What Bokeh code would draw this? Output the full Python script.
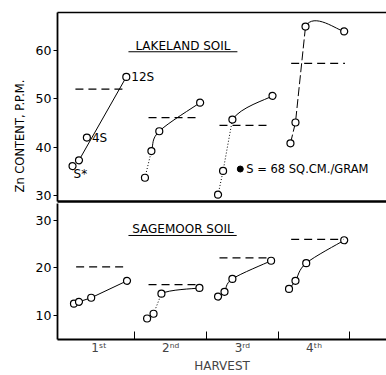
from bokeh.plotting import figure
from bokeh.models import Range1d, FixedTicker, LinearAxis, Label, Title
from bokeh.layouts import column
from bokeh.embed import file_html
from bokeh.resources import INLINE

# ---------------- data ----------------
harvest_labels = ["1\u02e2\u1d57", "2\u207f\u1d48", "3\u02b3\u1d48", "4\u1d57\u02b0"]
harvest_centers = [0.5, 1.5, 2.5, 3.5]
harvest_bounds = [1, 2, 3, 4]

lake_x = [[0.13, 0.22, 0.33, 0.88], [1.14, 1.23, 1.34, 1.91],
          [2.16, 2.23, 2.36, 2.92], [3.17, 3.24, 3.38, 3.92]]
lake_y = [[36.1, 37.3, 42.0, 54.5], [33.7, 39.2, 43.3, 49.2],
          [30.2, 35.1, 45.7, 50.6], [40.8, 45.1, 64.9, 63.9]]
lake_ref = [52.0, 46.1, 44.5, 57.3]
lake_ref_x0 = [0.17, 1.19, 2.18, 3.18]
lake_ref_x1 = [0.89, 1.86, 2.86, 3.93]

sage_x = [[0.15, 0.22, 0.39, 0.89], [1.17, 1.26, 1.37, 1.90],
          [2.16, 2.25, 2.36, 2.90], [3.15, 3.24, 3.39, 3.92]]
sage_y = [[12.5, 12.9, 13.75, 17.3], [9.4, 10.4, 14.6, 15.8],
          [14.0, 15.0, 17.7, 21.5], [15.6, 17.3, 21.0, 25.8]]
sage_ref = [20.2, 16.5, 22.1, 26.0]
sage_ref_x0 = [0.18, 1.19, 2.18, 3.18]
sage_ref_x1 = [0.89, 1.91, 2.89, 3.91]

surface_x = [2.47]
surface_y = [35.5]

lake_ticks = [30, 40, 50, 60]
sage_ticks = [10, 20, 30]

FONT = "DejaVu Sans"
X_RANGE = Range1d(-0.08, 4.51)


def style_common(p):
    p.xgrid.visible = False
    p.ygrid.visible = False
    p.outline_line_color = None
    p.background_fill_color = "white"
    p.border_fill_color = "white"


def style_yaxis(ax, ticks):
    ax.ticker = FixedTicker(ticks=ticks)
    ax.major_tick_in = 0
    ax.major_tick_out = 4
    ax.minor_tick_line_color = None
    ax.major_label_standoff = 2
    ax.major_label_text_font = FONT
    ax.major_label_text_font_size = "12.5px"
    ax.major_label_text_color = "black"
    ax.axis_line_width = 1.8
    ax.axis_line_color = "black"
    ax.major_tick_line_color = "black"


def bare_axis(ax, width):
    ax.ticker = FixedTicker(ticks=[])
    ax.major_label_text_font_size = "0px"
    ax.major_label_standoff = 0
    ax.major_tick_in = 0
    ax.major_tick_out = 0
    ax.minor_tick_line_color = None
    ax.axis_line_width = width
    ax.axis_line_color = "black"


def catmull(xs, ys, start):
    n = len(xs)
    out = {"x0": [], "y0": [], "x1": [], "y1": [], "cx0": [], "cy0": [], "cx1": [], "cy1": []}
    for i in range(start, n - 1):
        a = i - 1 if i > 0 else i
        d = i + 2 if i + 2 < n else i + 1
        out["x0"].append(xs[i]); out["y0"].append(ys[i])
        out["x1"].append(xs[i + 1]); out["y1"].append(ys[i + 1])
        out["cx0"].append(xs[i] + (xs[i + 1] - xs[a]) / 6)
        out["cy0"].append(ys[i] + (ys[i + 1] - ys[a]) / 6)
        out["cx1"].append(xs[i + 1] - (xs[d] - xs[i]) / 6)
        out["cy1"].append(ys[i + 1] - (ys[d] - ys[i]) / 6)
    return out


def draw_series(p, xs, ys, dash_start, dash_end, dash, curve=True):
    if dash_end > dash_start:
        p.line(xs[dash_start:dash_end + 1], ys[dash_start:dash_end + 1], line_color="black",
               line_width=1, line_dash=dash)
    if curve:
        seg = catmull(xs, ys, dash_end)
        p.bezier(line_color="black", line_width=1, **seg)
    else:
        p.line(xs[dash_end:], ys[dash_end:], line_color="black", line_width=1)
    p.scatter(xs, ys, size=7, marker="circle", fill_color="white",
              line_color="black", line_width=1.2)


def lab(p, text, x, y, size="12px", align="left", xo=0, yo=0):
    p.add_layout(Label(x=x, y=y, text=text, text_font=FONT, text_font_size=size,
                       text_align=align, text_baseline="middle", x_offset=xo,
                       y_offset=yo, text_color="black"))


# ---------------- top panel: Lakeland ----------------
p1 = figure(width=386, height=203, x_range=X_RANGE, y_range=Range1d(28.8, 67.8),
            output_backend="svg", toolbar_location=None,
            min_border_left=57, min_border_right=0, min_border_top=12, min_border_bottom=2)
style_common(p1)
style_yaxis(p1.yaxis[0], lake_ticks)
bare_axis(p1.xaxis[0], 2.5)
top_ax = LinearAxis()
bare_axis(top_ax, 1.5)
p1.add_layout(top_ax, "above")

ylab = Title(text="Zn CONTENT, P.P.M.", align="left", offset=9, standoff=12,
             text_font=FONT, text_font_size="11.5px", text_font_style="normal",
             text_color="black")
p1.add_layout(ylab, "left")

p1.line(lake_x[0][1:4:2], lake_y[0][1:4:2], line_color="black", line_width=1)
p1.scatter(lake_x[0], lake_y[0], size=7, marker="circle", fill_color="white",
           line_color="black", line_width=1.2)
draw_series(p1, lake_x[1], lake_y[1], 0, 1, "1 2")
draw_series(p1, lake_x[2], lake_y[2], 0, 2, "1 2")
draw_series(p1, lake_x[3], lake_y[3], 0, 2, "9 3")

p1.segment(x0=lake_ref_x0, x1=lake_ref_x1, y0=lake_ref, y1=lake_ref,
           line_color="black", line_width=1.3, line_dash="8 5")
p1.scatter(surface_x, surface_y, size=6, marker="circle", fill_color="black",
           line_color="black")

lab(p1, "12S", lake_x[0][3], lake_y[0][3], xo=5)
lab(p1, "4S", lake_x[0][2], lake_y[0][2], xo=5)
lab(p1, "S*", lake_x[0][0], lake_y[0][0], xo=1, yo=-8)
lab(p1, "S = 68 SQ.CM./GRAM", surface_x[0], surface_y[0], size="11.5px", xo=6)
lab(p1, "LAKELAND SOIL", 1.67, 60.8, align="center")
p1.segment(x0=[0.91], x1=[2.43], y0=[59.7], y1=[59.7], line_color="black", line_width=1)

# ---------------- bottom panel: Sagemoor ----------------
p2 = figure(width=386, height=172, x_range=X_RANGE, y_range=Range1d(5, 33.5),
            output_backend="svg", toolbar_location=None,
            min_border_left=57, min_border_right=0, min_border_top=0, min_border_bottom=0)
style_common(p2)
style_yaxis(p2.yaxis[0], sage_ticks)
xa = p2.xaxis[0]
xa.ticker = FixedTicker(ticks=harvest_centers, minor_ticks=harvest_bounds)
xa.major_label_overrides = {c: l for c, l in zip(harvest_centers, harvest_labels)}
xa.major_tick_in = 0
xa.major_tick_out = 0
xa.minor_tick_in = 8
xa.minor_tick_out = 0
xa.minor_tick_line_color = "black"
xa.major_label_standoff = 1
xa.major_label_text_font = FONT
xa.major_label_text_font_size = "12px"
xa.axis_label = "HARVEST"
xa.axis_label_standoff = 1
xa.axis_label_text_font = FONT
xa.axis_label_text_font_size = "12px"
xa.axis_label_text_font_style = "normal"
xa.axis_line_width = 1.8

draw_series(p2, sage_x[0], sage_y[0], 0, 0, "solid", curve=False)
draw_series(p2, sage_x[1], sage_y[1], 1, 2, "1 2")
draw_series(p2, sage_x[2], sage_y[2], 0, 0, "solid")
draw_series(p2, sage_x[3], sage_y[3], 0, 0, "solid")

p2.segment(x0=sage_ref_x0, x1=sage_ref_x1, y0=sage_ref, y1=sage_ref,
           line_color="black", line_width=1.3, line_dash="8 5")
lab(p2, "SAGEMOOR SOIL", 1.67, 28.1, align="center")
p2.segment(x0=[0.91], x1=[2.42], y0=[26.8], y1=[26.8], line_color="black", line_width=1)

layout = column(p1, p2)
open("out.html", "w").write(file_html(layout, INLINE))
